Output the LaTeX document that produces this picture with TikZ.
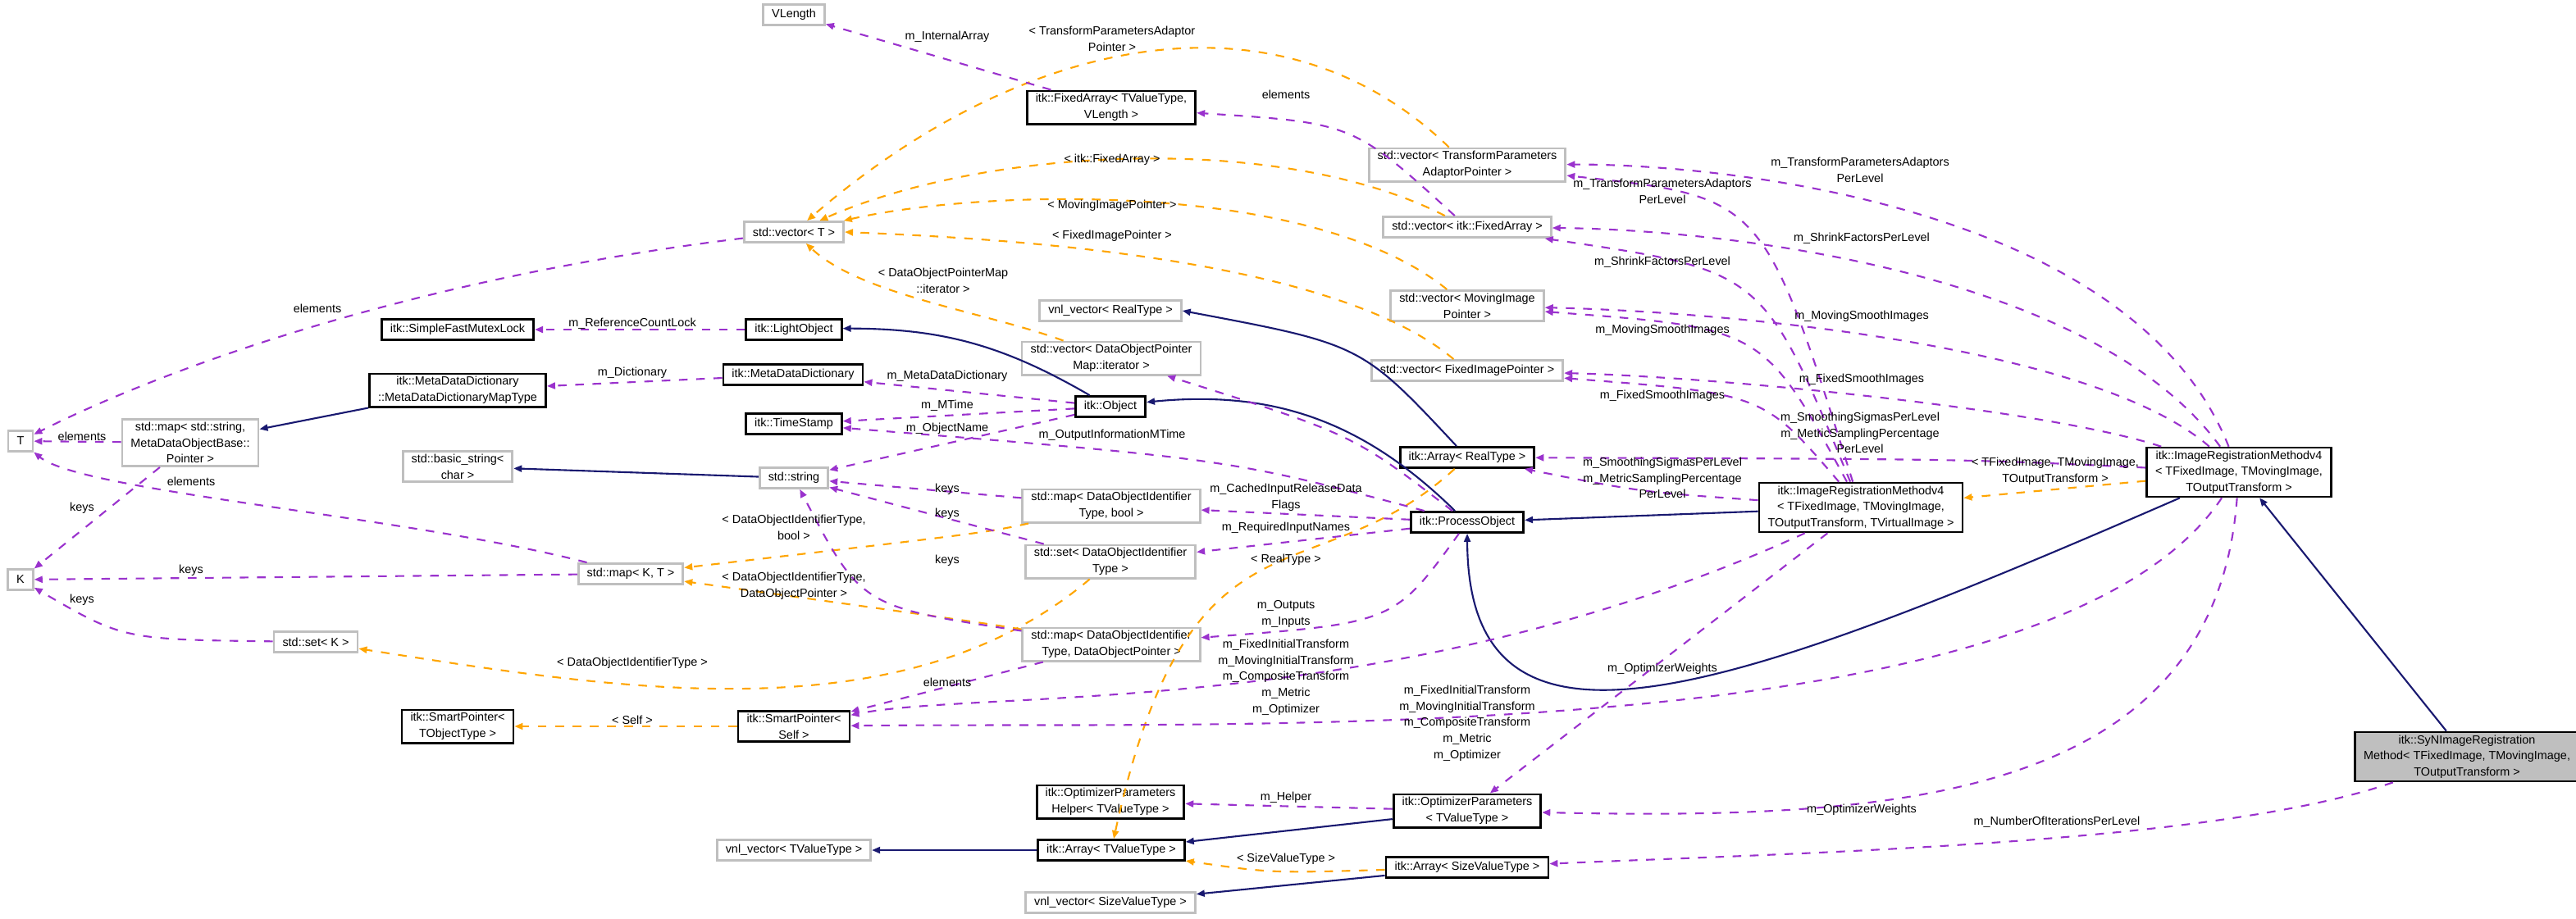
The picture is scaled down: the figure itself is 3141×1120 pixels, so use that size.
\documentclass[tikz,border=0pt]{standalone}
\usepackage{fontspec}
\setmainfont{Liberation Sans}
\usetikzlibrary{arrows.meta}
\definecolor{usecol}{RGB}{154,50,205}
\definecolor{tplcol}{RGB}{255,165,0}
\definecolor{inhcol}{RGB}{25,25,112}
\definecolor{grayline}{RGB}{191,191,191}
\tikzset{
  cls/.style={draw=black, thick, fill=white, align=center, inner xsep=3pt, inner ysep=1pt, minimum height=0.25cm},
  ext/.style={draw=grayline, thick, fill=white, align=center, inner xsep=3pt, inner ysep=1pt, minimum height=0.25cm},
  use/.style={usecol, dashed, semithick, -{Triangle[length=0.1cm,width=0.08cm]}},
  tpl/.style={tplcol, dashed, semithick, -{Triangle[length=0.1cm,width=0.08cm]}},
  inh/.style={inhcol, semithick, -{Triangle[length=0.1cm,width=0.08cm]}},
  lbl/.style={align=center, inner sep=0pt}
}
\begin{document}
\begin{tikzpicture}[x=0.01cm, y=-0.01cm, font=\fontsize{4.1}{5.6}\selectfont]
\useasboundingbox (0,0) rectangle (3141,1120);

% classes
\node[ext] (vlength) at (968,18) {VLength};
\node[cls] (fixarr) at (1355,131) {itk::FixedArray< TValueType,\\VLength >};
\node[ext] (vecT) at (968,283) {std::vector< T >};
\node[ext] (vecTPA) at (1789,201) {std::vector< TransformParameters\\AdaptorPointer >};
\node[ext] (vecFA) at (1789,277) {std::vector< itk::FixedArray >};
\node[ext] (vecMov) at (1789,373) {std::vector< MovingImage\\Pointer >};
\node[ext] (vecFix) at (1789,452) {std::vector< FixedImagePointer >};
\node[ext] (vnlReal) at (1354,379) {vnl\_vector< RealType >};
\node[ext] (vecDOP) at (1355,437) {std::vector< DataObjectPointer\\Map::iterator >};
\node[cls] (mutex) at (558,402) {itk::SimpleFastMutexLock};
\node[cls] (light) at (968,402) {itk::LightObject};
\node[cls] (maptype) at (558,476) {itk::MetaDataDictionary\\::MetaDataDictionaryMapType};
\node[cls] (mdd) at (967,457) {itk::MetaDataDictionary};
\node[cls] (object) at (1354,496) {itk::Object};
\node[cls] (stamp) at (968,517) {itk::TimeStamp};
\node[ext] (T) at (25,538) {T};
\node[ext] (mapStr) at (232,540) {std::map< std::string,\\MetaDataObjectBase::\\Pointer >};
\node[ext] (bstr) at (558,569) {std::basic\_string<\\char >};
\node[ext] (str) at (968,583) {std::string};
\node[cls] (arrReal) at (1789,558) {itk::Array< RealType >};
\node[ext] (mapBool) at (1355,617) {std::map< DataObjectIdentifier\\Type, bool >};
\node[cls] (proc) at (1789,637) {itk::ProcessObject};
\node[cls] (irmV) at (2269,619) {itk::ImageRegistrationMethodv4\\< TFixedImage, TMovingImage,\\TOutputTransform, TVirtualImage >};
\node[cls] (irm) at (2730,576) {itk::ImageRegistrationMethodv4\\< TFixedImage, TMovingImage,\\TOutputTransform >};
\node[ext] (setDOI) at (1354,685) {std::set< DataObjectIdentifier\\Type >};
\node[ext] (K) at (25,707) {K};
\node[ext] (mapKT) at (769,700) {std::map< K, T >};
\node[ext] (setK) at (385,783) {std::set< K >};
\node[ext] (mapDOP) at (1355,786) {std::map< DataObjectIdentifier\\Type, DataObjectPointer >};
\node[cls] (spObj) at (558,886) {itk::SmartPointer<\\TObjectType >};
\node[cls] (spSelf) at (968,886) {itk::SmartPointer<\\Self >};
\node[cls, fill=grayline] (syn) at (3008,923) {itk::SyNImageRegistration\\Method< TFixedImage, TMovingImage,\\TOutputTransform >};
\node[cls] (helper) at (1354,978) {itk::OptimizerParameters\\Helper< TValueType >};
\node[cls] (optp) at (1789,989) {itk::OptimizerParameters\\< TValueType >};
\node[ext] (vnlTV) at (968,1037) {vnl\_vector< TValueType >};
\node[cls] (arrTV) at (1355,1037) {itk::Array< TValueType >};
\node[cls] (arrSize) at (1789,1058) {itk::Array< SizeValueType >};
\node[ext] (vnlSize) at (1354,1101) {vnl\_vector< SizeValueType >};

% inheritance
\draw[inh] (object) to[bend right=15] (light);
\draw[inh] (maptype.south west) -- (mapStr);
\draw[inh] (str) -- (bstr);
\draw[inh] (proc) to[bend right=25] (object);
\draw[inh] (arrReal) .. controls (1660,420) .. (vnlReal.east);
\draw[inh] (irmV) -- (proc);
\draw[inh] (irm) .. controls (2100,850) and (1790,960) .. (proc);
\draw[inh] (syn) -- (irm);
\draw[inh] (arrTV) -- (vnlTV);
\draw[inh] (optp) -- (arrTV);
\draw[inh] (arrSize) -- (vnlSize);

% templates
\draw[tpl] (vecTPA) .. controls (1560,-20) and (1250,40) .. (vecT);
\draw[tpl] (vecFA) .. controls (1560,160) and (1200,180) .. (vecT);
\draw[tpl] (vecMov) .. controls (1600,220) and (1200,230) .. (vecT);
\draw[tpl] (vecFix) .. controls (1620,310) and (1200,290) .. (vecT.east);
\draw[tpl] (vecDOP) .. controls (1200,380) and (1050,360) .. (vecT);
\draw[tpl] (mapBool) .. controls (1200,650) .. (mapKT);
\draw[tpl] (mapDOP) .. controls (1200,760) .. (mapKT);
\draw[tpl] (setDOI) .. controls (1100,900) and (750,840) .. (setK);
\draw[tpl] (spSelf) -- (spObj);
\draw[tpl] (arrReal) .. controls (1600,730) and (1450,600) .. (arrTV);
\draw[tpl] (arrSize) .. controls (1550,1065) .. (arrTV);
\draw[tpl] (irm) -- (irmV);

% usage
\draw[use] (fixarr) -- (vlength);
\draw[use] (vecFA) .. controls (1650,150) .. (fixarr);
\draw[use] (vecT) .. controls (500,340) and (200,450) .. (T);
\draw[use] (light) -- (mutex);
\draw[use] (mdd) -- (maptype);
\draw[use] (mapStr) -- (T);
\draw[use] (mapStr) -- (K);
\draw[use] (mapKT) .. controls (500,630) and (100,600) .. (T);
\draw[use] (mapKT) -- (K);
\draw[use] (setK) .. controls (150,780) .. (K);
\draw[use] (object) -- (mdd);
\draw[use] (object) -- (stamp);
\draw[use] (object) -- (str);
\draw[use] (proc) .. controls (1500,560) .. (stamp);
\draw[use] (mapBool) -- (str);
\draw[use] (setDOI) -- (str);
\draw[use] (mapDOP) .. controls (1050,740) .. (str);
\draw[use] (mapDOP) -- (spSelf);
\draw[use] (proc) .. controls (1650,530) .. (vecDOP);
\draw[use] (proc) -- (mapBool);
\draw[use] (proc) -- (setDOI);
\draw[use] (proc) .. controls (1700,760) .. (mapDOP);
\draw[use] (irmV) .. controls (2150,240) .. (vecTPA);
\draw[use] (irmV) .. controls (2150,330) .. (vecFA);
\draw[use] (irmV) .. controls (2150,400) .. (vecMov);
\draw[use] (irmV) .. controls (2150,480) .. (vecFix);
\draw[use] (irmV) .. controls (2000,600) .. (arrReal);
\draw[use] (irmV) .. controls (1700,880) and (1200,840) .. (spSelf);
\draw[use] (irmV) -- (optp);
\draw[use] (irm) .. controls (2600,250) and (2100,200) .. (vecTPA);
\draw[use] (irm) .. controls (2550,330) and (2100,280) .. (vecFA);
\draw[use] (irm) .. controls (2550,420) and (2100,380) .. (vecMov);
\draw[use] (irm) .. controls (2500,500) and (2100,460) .. (vecFix);
\draw[use] (irm) .. controls (2400,560) .. (arrReal);
\draw[use] (irm) .. controls (2500,920) and (1500,880) .. (spSelf);
\draw[use] (irm) .. controls (2700,980) and (2300,1000) .. (optp);
\draw[use] (syn) .. controls (2700,1030) and (2200,1040) .. (arrSize);
\draw[use] (optp) -- (helper);

% labels
\node[lbl] at (1155,45) {m\_InternalArray};
\node[lbl] at (1356,47) {< TransformParametersAdaptor\\Pointer >};
\node[lbl] at (1568,115) {elements};
\node[lbl] at (1356,195) {< itk::FixedArray >};
\node[lbl] at (1356,251) {< MovingImagePointer >};
\node[lbl] at (1356,288) {< FixedImagePointer >};
\node[lbl] at (1150,342) {< DataObjectPointerMap\\::iterator >};
\node[lbl] at (387,376) {elements};
\node[lbl] at (771,395) {m\_ReferenceCountLock};
\node[lbl] at (771,455) {m\_Dictionary};
\node[lbl] at (1155,459) {m\_MetaDataDictionary};
\node[lbl] at (1155,495) {m\_MTime};
\node[lbl] at (1155,523) {m\_ObjectName};
\node[lbl] at (1356,531) {m\_OutputInformationMTime};
\node[lbl] at (100,532) {elements};
\node[lbl] at (233,587) {elements};
\node[lbl] at (100,620) {keys};
\node[lbl] at (233,696) {keys};
\node[lbl] at (100,732) {keys};
\node[lbl] at (968,643) {< DataObjectIdentifierType,\\bool >};
\node[lbl] at (968,715) {< DataObjectIdentifierType,\\DataObjectPointer >};
\node[lbl] at (771,809) {< DataObjectIdentifierType >};
\node[lbl] at (771,878) {< Self >};
\node[lbl] at (1155,597) {keys};
\node[lbl] at (1155,627) {keys};
\node[lbl] at (1155,684) {keys};
\node[lbl] at (1155,832) {elements};
\node[lbl] at (1568,607) {m\_CachedInputReleaseData\\Flags};
\node[lbl] at (1568,644) {m\_RequiredInputNames};
\node[lbl] at (1568,683) {< RealType >};
\node[lbl] at (1568,749) {m\_Outputs\\m\_Inputs};
\node[lbl] at (1568,826) {m\_FixedInitialTransform\\m\_MovingInitialTransform\\m\_CompositeTransform\\m\_Metric\\m\_Optimizer};
\node[lbl] at (1789,882) {m\_FixedInitialTransform\\m\_MovingInitialTransform\\m\_CompositeTransform\\m\_Metric\\m\_Optimizer};
\node[lbl] at (1568,973) {m\_Helper};
\node[lbl] at (1568,1048) {< SizeValueType >};
\node[lbl] at (2027,233) {m\_TransformParametersAdaptors\\PerLevel};
\node[lbl] at (2027,320) {m\_ShrinkFactorsPerLevel};
\node[lbl] at (2027,403) {m\_MovingSmoothImages};
\node[lbl] at (2027,483) {m\_FixedSmoothImages};
\node[lbl] at (2027,583) {m\_SmoothingSigmasPerLevel\\m\_MetricSamplingPercentage\\PerLevel};
\node[lbl] at (2027,816) {m\_OptimizerWeights};
\node[lbl] at (2268,207) {m\_TransformParametersAdaptors\\PerLevel};
\node[lbl] at (2270,291) {m\_ShrinkFactorsPerLevel};
\node[lbl] at (2270,386) {m\_MovingSmoothImages};
\node[lbl] at (2270,463) {m\_FixedSmoothImages};
\node[lbl] at (2268,528) {m\_SmoothingSigmasPerLevel\\m\_MetricSamplingPercentage\\PerLevel};
\node[lbl] at (2506,575) {< TFixedImage, TMovingImage,\\TOutputTransform >};
\node[lbl] at (2270,988) {m\_OptimizerWeights};
\node[lbl] at (2508,1003) {m\_NumberOfIterationsPerLevel};
\end{tikzpicture}
\end{document}
